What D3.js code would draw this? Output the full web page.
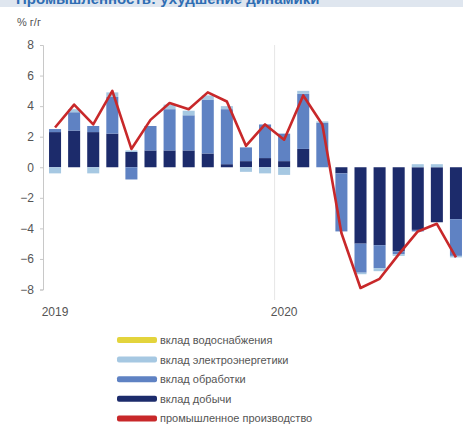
<!DOCTYPE html>
<html><head><meta charset="utf-8">
<script src="https://cdn.jsdelivr.net/npm/d3@7"></script>
<style>
html,body{margin:0;padding:0;background:#fff;}
svg{display:block;font-family:"Liberation Sans",Arial,sans-serif;}
</style></head>
<body><svg id="chart" width="463" height="427"></svg>
<script>
const months = ["2019-01","2019-02","2019-03","2019-04","2019-05","2019-06","2019-07","2019-08","2019-09","2019-10","2019-11","2019-12",
                "2020-01","2020-02","2020-03","2020-04","2020-05","2020-06","2020-07","2020-08","2020-09","2020-10"];
const mining        = [2.3, 2.4, 2.3, 2.2, 1.0, 1.1, 1.1, 1.1, 0.9, 0.2, 0.4, 0.6, 0.4, 1.2, 0.0, -0.4, -5.0, -5.1, -5.5, -4.1, -3.6, -3.4];
const manufacturing = [0.2, 1.2, 0.4, 2.4, -0.8, 1.6, 2.7, 2.3, 3.5, 3.6, 0.9, 2.2, 1.8, 3.6, 2.9, -3.8, -1.9, -1.5, -0.2, -0.1, 0.0, -2.4];
const electricity   = [-0.4, 0.2, -0.4, 0.3, 0.1, 0.0, 0.3, 0.3, 0.3, 0.2, -0.3, -0.4, -0.5, 0.2, 0.1, 0.0, -0.1, -0.2, -0.1, 0.2, 0.2, -0.1];
const water         = [0.0, 0.0, 0.0, 0.0, 0.0, 0.0, 0.0, 0.0, 0.0, 0.0, 0.0, 0.0, 0.0, 0.0, 0.0, 0.0, 0.0, 0.0, 0.0, 0.0, 0.0, 0.0];
const industry      = [2.6, 4.1, 2.8, 5.0, 1.2, 3.1, 4.2, 3.8, 4.9, 4.3, 1.4, 2.8, 1.8, 4.7, 2.8, -4.3, -7.9, -7.3, -5.7, -4.2, -3.7, -5.9];
const yTicks = [-8, -6, -4, -2, 0, 2, 4, 6, 8];
const yearTicks = [{month:"2019-01", label:"2019"}, {month:"2020-01", label:"2020"}];
const seriesKeys = ["mining","manufacturing","electricity","water"];
const seriesColors = {mining:"#1c2b6b", manufacturing:"#5f82c3", electricity:"#a6c8e2", water:"#e3d43c"};
const legendItems = [
  {label:"вклад водоснабжения", color:"#e3d43c"},
  {label:"вклад электроэнергетики", color:"#a6c8e2"},
  {label:"вклад обработки", color:"#5f82c3"},
  {label:"вклад добычи", color:"#1c2b6b"},
  {label:"промышленное производство", color:"#c8282a"}
];
const titleText = "Промышленность: ухудшение динамики";
const unitText = "% г/г";

const svg = d3.select("#chart");
const table = months.map((m,i)=>({month:m, mining:mining[i], manufacturing:manufacturing[i], electricity:electricity[i], water:water[i], industry:industry[i]}));

// title strip (cut at top)
svg.append("rect").attr("x",0).attr("y",0).attr("width",463).attr("height",7).attr("fill","#dfe6ef");
svg.append("text").attr("x",16).attr("y",4).attr("font-size",15).attr("font-weight","bold")
  .attr("fill","#2f6db3").text(titleText);

const x = d3.scaleBand().domain(months).range([45.5, 465.5]).paddingInner(0.37).paddingOuter(0.185);
const y = d3.scaleLinear().domain([-8, 8]).range([289.5, 45]);

// vertical year gridline
svg.append("line").attr("x1", x("2020-01") - x.step()*x.paddingInner()/2).attr("x2", x("2020-01") - x.step()*x.paddingInner()/2)
  .attr("y1", 45).attr("y2", 300).attr("stroke","#e6e6e6").attr("stroke-width",1);

// y axis
const yAxis = d3.axisLeft(y).tickValues(yTicks).tickSize(3).tickPadding(6).tickFormat(d3.format("d"));
const gy = svg.append("g").attr("transform","translate(43,0)").call(yAxis);
gy.select(".domain").attr("stroke","#c8c8c8");
gy.selectAll(".tick line").attr("stroke","#c8c8c8");
gy.selectAll(".tick text").attr("font-size",12).attr("fill","#555").attr("font-family","Liberation Sans, Arial, sans-serif");

svg.append("text").attr("x",17).attr("y",26).attr("font-size",11).attr("fill","#555").text(unitText);

// bars
const stack = d3.stack().keys(seriesKeys).offset(d3.stackOffsetDiverging);
const stacked = stack(table);
svg.append("g").selectAll("g").data(stacked).join("g")
  .attr("fill", d=>seriesColors[d.key])
  .selectAll("rect").data(d=>d).join("rect")
  .attr("x", d=>x(d.data.month))
  .attr("width", x.bandwidth())
  .attr("y", d=>y(Math.max(d[0],d[1])))
  .attr("height", d=>Math.abs(y(d[0])-y(d[1])));

// line
const line = d3.line().x(d=>x(d.month)+x.bandwidth()/2).y(d=>y(d.industry));
svg.append("path").datum(table).attr("d", line).attr("fill","none")
  .attr("stroke","#c8282a").attr("stroke-width",2.6).attr("stroke-linejoin","round");

// x labels
svg.append("g").selectAll("text").data(yearTicks).join("text")
  .attr("x", d=>x(d.month)+x.bandwidth()/2).attr("y", 316).attr("text-anchor","middle")
  .attr("font-size",12).attr("fill","#555").text(d=>d.label);

// legend
const lg = svg.append("g").selectAll("g").data(legendItems).join("g")
  .attr("transform",(d,i)=>`translate(117,${340 + i*19.6})`);
lg.append("rect").attr("x",0).attr("y",-3).attr("width",40).attr("height",6).attr("rx",2).attr("fill",d=>d.color);
lg.append("text").attr("x",43).attr("y",4).attr("font-size",11).attr("fill","#555").text(d=>d.label);
</script>
</body></html>
